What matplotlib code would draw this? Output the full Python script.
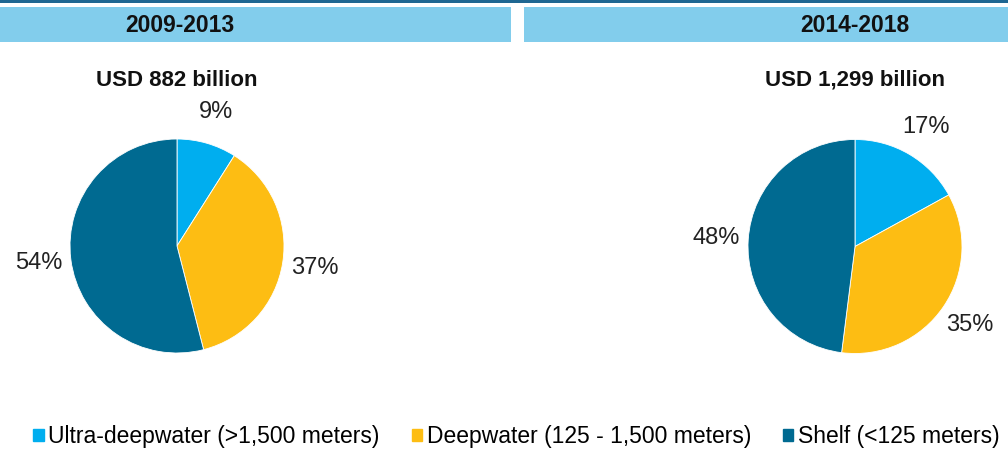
import matplotlib
matplotlib.use("Agg")
import matplotlib.pyplot as plt
from matplotlib.patches import Rectangle

plt.rcParams["font.family"] = ["Liberation Sans", "DejaVu Sans"]

W, H = 1008, 450

periods = ["2009-2013", "2014-2018"]
totals = ["USD 882 billion", "USD 1,299 billion"]
segments = ["Ultra-deepwater (>1,500 meters)", "Deepwater (125 - 1,500 meters)", "Shelf (<125 meters)"]
share_0913 = [9, 37, 54]
share_1418 = [17, 35, 48]

COLORS = ["#00AEEF", "#FDBD13", "#006A91"]
BAR = "#82CDEC"
LINE = "#1F6792"

fig = plt.figure(figsize=(W / 100, H / 100), dpi=100)
fig.patch.set_facecolor("white")

# top rule and period header bars, drawn in pixel units
bg = fig.add_axes([0, 0, 1, 1]); bg.axis("off")
bg.set_xlim(0, W); bg.set_ylim(H, 0)
bg.add_patch(Rectangle((0, 0), W, 2.8, color=LINE, lw=0))
bg.add_patch(Rectangle((0, 6.5), 511, 35.5, color=BAR, lw=0))
bg.add_patch(Rectangle((524, 6.5), W - 524, 35.5, color=BAR, lw=0))

centres = [(177, 246), (855, 246.5)]
R = 107
head_x = [180, 855]

for i, (period, total, shares) in enumerate(zip(periods, totals, [share_0913, share_1418])):
    cx, cy = centres[i]
    bg.text(head_x[i], 25.5, period, ha="center", va="center", fontsize=16.5,
            fontweight="bold", color="#111111")
    bg.text(cx, 80, total, ha="center", va="center", fontsize=16,
            fontweight="bold", color="#111111")

    side = 2.5 * R
    ax = fig.add_axes([(cx - side / 2) / W, 1 - (cy + side / 2) / H, side / W, side / H])
    wedges, texts = ax.pie(shares, labels=[f"{s}%" for s in shares], colors=COLORS,
                           startangle=90, counterclock=False, labeldistance=1.3,
                           wedgeprops=dict(linewidth=0.6, edgecolor="white"),
                           textprops=dict(fontsize=17, color="#222222"))
    for t in texts:
        t.set_ha("center")
    ax.set_aspect("equal")

# legend along the bottom
handles = [Rectangle((0, 0), 1, 1, color=c) for c in COLORS]
fig.legend(handles, segments, loc="center", bbox_to_anchor=(516.5 / W, 1 - 437 / H),
           ncol=3, frameon=False, fontsize=16.5, handlelength=0.45, handleheight=0.45,
           handletextpad=0.2, columnspacing=1.4, borderaxespad=0)

fig.savefig("out.png", dpi=100)
